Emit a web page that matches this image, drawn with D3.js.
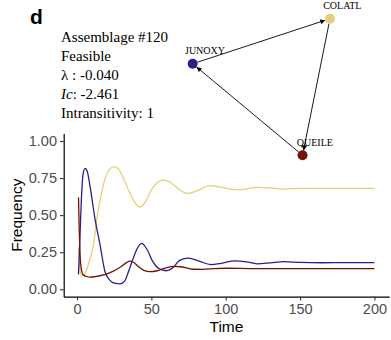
<!DOCTYPE html>
<html>
<head>
<meta charset="utf-8">
<script src="https://cdn.jsdelivr.net/npm/d3@7"></script>
<style>
    body { margin: 0; background: #ffffff; }
    svg { display: block; }
    .tick text { font-family: "Liberation Sans", Arial, sans-serif; font-size: 14.5px; fill: #4d4d4d; }
    .tick line { stroke: #333333; }
    .label { font-family: "Liberation Sans", Arial, sans-serif; font-size: 15.5px; fill: #000000; }
    .info { font-family: "Liberation Serif", "Times New Roman", serif; font-size: 15px; fill: #000000; }
    .node-label { font-family: "Liberation Serif", "Times New Roman", serif; font-size: 10px; fill: #000000; }
</style>
</head>
<body>
<svg id="chart" width="391" height="340"></svg>
<script>

// Time points and frequencies of the three species
var timeJunoxy = [1, 2, 3, 4, 5.4, 7, 9, 12, 15.5, 18.8, 22, 25, 29, 32, 35, 37.5, 40, 43.5, 47, 51, 55, 60, 65, 69, 75, 82, 90, 97, 106, 114, 121, 130, 139, 150, 165, 180, 200];
var freqJunoxy = [0.10, 0.36, 0.62, 0.77, 0.815, 0.79, 0.68, 0.48, 0.30, 0.12, 0.062, 0.042, 0.037, 0.055, 0.13, 0.20, 0.265, 0.31, 0.27, 0.186, 0.14, 0.125, 0.15, 0.195, 0.21, 0.19, 0.167, 0.175, 0.192, 0.185, 0.172, 0.178, 0.186, 0.181, 0.179, 0.18, 0.18];

var timeColatl = [1, 2, 3, 4, 6, 8, 11, 14, 16.5, 19, 22, 25, 28, 32, 36, 39.5, 42.4, 45, 50, 54, 58, 63, 69, 75, 82, 89, 96, 103, 110, 121, 130, 138, 150, 170, 200];
var freqColatl = [0.28, 0.14, 0.09, 0.09, 0.12, 0.18, 0.30, 0.52, 0.65, 0.75, 0.81, 0.827, 0.81, 0.73, 0.64, 0.575, 0.555, 0.575, 0.67, 0.72, 0.737, 0.72, 0.67, 0.647, 0.67, 0.699, 0.69, 0.676, 0.672, 0.688, 0.684, 0.676, 0.681, 0.681, 0.68];

var timeQueile = [1, 1.5, 2, 3, 4, 6, 9, 12, 16, 21, 26, 30, 33, 35.6, 38, 41, 45, 49, 54, 60, 65, 70, 78, 85, 92, 100, 120, 150, 200];
var freqQueile = [0.62, 0.40, 0.25, 0.13, 0.10, 0.088, 0.082, 0.085, 0.093, 0.108, 0.13, 0.155, 0.178, 0.19, 0.182, 0.155, 0.128, 0.119, 0.125, 0.145, 0.155, 0.152, 0.135, 0.134, 0.14, 0.142, 0.139, 0.139, 0.139];

var xTicks = [0, 50, 100, 150, 200];
var yTicks = [0, 0.25, 0.5, 0.75, 1];

// Interaction network (layout units) and its edges
var nodeNames = ["JUNOXY", "COLATL", "QUEILE"];
var nodeLayoutX = [0, 1, 0.8];
var nodeLayoutY = [0.67, 1, 0];
var nodeColours = ["#2e1c8c", "#e4cf7c", "#741204"];
var edges = [["JUNOXY", "COLATL"], ["COLATL", "QUEILE"], ["QUEILE", "JUNOXY"]];

var infoLines = ["Assemblage #120", "Feasible", "λ : -0.040", "Ic: -2.461", "Intransitivity: 1"];

function drawChart() {
    /*
    Draws the time series and the interaction network
    */

    var svg = d3.select("#chart");

    var padding = {
        top: 133.6,
        right: 1.8,
        bottom: 43.3,
        left: 63.7
    };

    var chartWidth = 391 - padding.left - padding.right;
    var chartHeight = 340 - padding.top - padding.bottom;

    var plot = svg.append("g")
        .attr("transform", `translate(${padding.left}, ${padding.top})`);

    // ggplot-like expanded domains
    var xScale = d3.scaleLinear()
        .domain([1 - 199 * 0.05, 200 + 199 * 0.05])
        .range([0, chartWidth]);

    var yScale = d3.scaleLinear()
        .domain([-0.05, 1.05])
        .range([chartHeight, 0]);

    // Draw x-axis
    var xAxis = plot.append("g")
        .attr("transform", `translate(0, ${chartHeight})`)
        .call(d3.axisBottom(xScale)
            .tickValues(xTicks)
            .tickSizeOuter(0)
            .tickSizeInner(3.7)
            .tickPadding(3));

    // Draw y-axis
    var yAxis = plot.append("g")
        .call(d3.axisLeft(yScale)
            .tickValues(yTicks)
            .tickFormat(d3.format(".2f"))
            .tickSizeOuter(0)
            .tickSizeInner(3.7)
            .tickPadding(3));

    [xAxis, yAxis].forEach(function(axis) {
        axis.select(".domain")
            .attr("stroke", "#000000")
            .attr("stroke-width", 1.2);
        axis.selectAll(".tick line")
            .attr("stroke-width", 1.1);
    });

    // Axis labels
    svg.append("text")
        .attr("class", "label")
        .attr("x", padding.left + chartWidth / 2)
        .attr("y", 331.5)
        .attr("text-anchor", "middle")
        .text("Time");

    svg.append("text")
        .attr("class", "label")
        .attr("transform", `translate(21.5, ${padding.top + chartHeight / 2}) rotate(-90)`)
        .attr("text-anchor", "middle")
        .text("Frequency");

    // Draw the series
    var line = d3.line()
        .x(function(d) { return xScale(d[0]); })
        .y(function(d) { return yScale(d[1]); })
        .curve(d3.curveMonotoneX);

    var series = [
        { t: timeColatl, f: freqColatl, colour: nodeColours[1] },
        { t: timeJunoxy, f: freqJunoxy, colour: nodeColours[0] },
        { t: timeQueile, f: freqQueile, colour: nodeColours[2] }
    ];

    series.forEach(function(s) {
        plot.append("path")
            .datum(d3.zip(s.t, s.f))
            .attr("fill", "none")
            .attr("stroke", s.colour)
            .attr("stroke-width", 1.3)
            .attr("d", line);
    });

    // Panel tag
    svg.append("text")
        .attr("x", 30)
        .attr("y", 24)
        .attr("font-family", "'Liberation Sans', Arial, sans-serif")
        .attr("font-weight", "bold")
        .attr("font-size", "21px")
        .text("d");

    // Info text block
    var info = svg.append("g");
    infoLines.forEach(function(text, i) {
        var t = info.append("text")
            .attr("class", "info")
            .attr("x", 61)
            .attr("y", 41.6 + i * 19.2);
        if (text.indexOf("Ic") === 0) {
            t.append("tspan").attr("font-style", "italic").text("Ic");
            t.append("tspan").text(text.slice(2));
        } else {
            t.text(text);
        }
    });

    // Network
    var netX = d3.scaleLinear().domain([0, 1]).range([192.7, 330]);
    var netY = d3.scaleLinear().domain([0, 1]).range([155.3, 18.7]);
    var radius = 5;

    var nodes = nodeNames.map(function(name, i) {
        return { name: name, x: netX(nodeLayoutX[i]), y: netY(nodeLayoutY[i]), colour: nodeColours[i] };
    });
    var byName = {};
    nodes.forEach(function(n) { byName[n.name] = n; });

    svg.append("defs").append("marker")
        .attr("id", "arrow")
        .attr("viewBox", "0 0 10 10")
        .attr("refX", 10)
        .attr("refY", 5)
        .attr("markerWidth", 6)
        .attr("markerHeight", 5)
        .attr("markerUnits", "userSpaceOnUse")
        .attr("orient", "auto")
        .append("path")
            .attr("d", "M0,0 L10,5 L0,10 Z")
            .attr("fill", "#000000");

    // Shorten each edge by the node radius at both ends
    function edgeEnd(e, end) {
        var a = byName[e[0]], b = byName[e[1]];
        var d = Math.hypot(b.x - a.x, b.y - a.y);
        var f = end ? 1 - radius / d : radius / d;
        return [a.x + (b.x - a.x) * f, a.y + (b.y - a.y) * f];
    }

    svg.selectAll(".edge")
        .data(edges)
        .enter()
        .append("line")
            .attr("class", "edge")
            .attr("x1", function(e) { return edgeEnd(e, false)[0]; })
            .attr("y1", function(e) { return edgeEnd(e, false)[1]; })
            .attr("x2", function(e) { return edgeEnd(e, true)[0]; })
            .attr("y2", function(e) { return edgeEnd(e, true)[1]; })
            .attr("stroke", "#000000")
            .attr("stroke-width", 0.9)
            .attr("marker-end", "url(#arrow)");

    svg.selectAll(".node")
        .data(nodes)
        .enter()
        .append("circle")
            .attr("class", "node")
            .attr("cx", function(n) { return n.x; })
            .attr("cy", function(n) { return n.y; })
            .attr("r", radius)
            .attr("fill", function(n) { return n.colour; });

    svg.selectAll(".node-label")
        .data(nodes)
        .enter()
        .append("text")
            .attr("class", "node-label")
            .attr("x", function(n) { return n.x + 12.3; })
            .attr("y", function(n) { return n.y - 9.3; })
            .attr("text-anchor", "middle")
            .text(function(n) { return n.name; });
};

drawChart();
</script>
</body>
</html>
